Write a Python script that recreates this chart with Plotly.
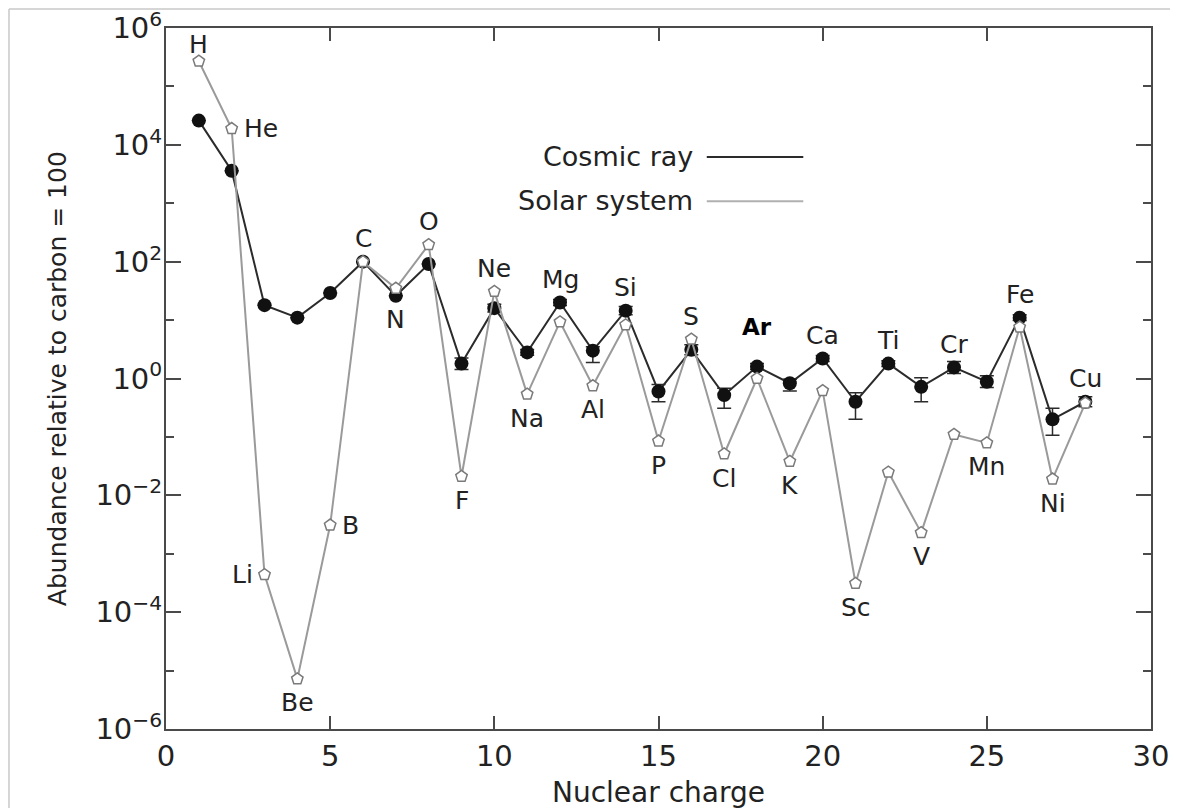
import math
import plotly.graph_objects as go

# ---------------- data ----------------
Z = list(range(1, 29))
symbols = ["H", "He", "Li", "Be", "B", "C", "N", "O", "F", "Ne", "Na", "Mg", "Al", "Si",
           "P", "S", "Cl", "Ar", "K", "Ca", "Sc", "Ti", "V", "Cr", "Mn", "Fe", "Ni", "Cu"]
cosmic_ray = [2.6e4, 3.6e3, 18, 11, 29, 100, 26, 91, 1.8, 16, 2.8, 20, 3.0, 14.5,
              0.6, 3.1, 0.52, 1.6, 0.83, 2.2, 0.40, 1.8, 0.72, 1.55, 0.88, 11, 0.20, 0.40]
cosmic_err_plus = [0, 0, 0, 0, 0, 0, 0, 0, 0.45, 2.7, 0.35, 2.5, 0.5, 2.5,
                   0.19, 0.68, 0.16, 0.2, 0.14, 0.27, 0.17, 0.22, 0.31, 0.41, 0.23, 1.4, 0.11, 0.087]
cosmic_err_minus = [0, 0, 0, 0, 0, 0, 0, 0, 0.38, 2.3, 0.31, 2.2, 1.13, 2.1,
                    0.20, 0.55, 0.21, 0.18, 0.22, 0.24, 0.20, 0.20, 0.32, 0.33, 0.18, 1.2, 0.093, 0.072]
solar_system = [2.7e5, 1.9e4, 4.4e-4, 7.2e-6, 3.1e-3, 100, 35, 195, 0.021, 31, 0.54, 9.3, 0.75, 8.3,
                0.085, 4.7, 0.051, 1.0, 0.038, 0.62, 3.1e-4, 0.025, 2.3e-3, 0.11, 0.079, 7.6, 0.019, 0.38]

y_tick_vals = [1e-6, 1e-4, 1e-2, 1e0, 1e2, 1e4, 1e6]
y_tick_text = ["10<sup>−6</sup>", "10<sup>−4</sup>", "10<sup>−2</sup>", "10<sup>0</sup>",
               "10<sup>2</sup>", "10<sup>4</sup>", "10<sup>6</sup>"]
y_minor_vals = [1e-5, 1e-3, 1e-1, 1e1, 1e3, 1e5]
x_tick_vals = [0, 5, 10, 15, 20, 25, 30]

# label styling: which series the label sits on and where (s = solar, c = cosmic)
label_series = ["s", "s", "s", "s", "s", "c", "c", "s", "s", "s", "s", "c", "s", "c",
                "s", "s", "s", "c", "s", "c", "s", "c", "s", "c", "s", "c", "s", "c"]
label_side = ["up", "right", "left", "down", "right", "up", "down", "up", "down", "up", "down", "up", "down", "up",
              "down", "up", "down", "up", "down", "up", "down", "up", "down", "up", "down", "up", "down", "up"]

FONT = "DejaVu Sans, Liberation Sans, Arial, sans-serif"
TXT = "#222222"
DARK = "#2b2b2b"
GRAY = "#9a9a9a"
AX = "#4a4a4a"

fig = go.Figure()

fig.add_trace(go.Scatter(
    x=Z, y=cosmic_ray, mode="lines+markers", name="Cosmic ray",
    line=dict(color=DARK, width=2),
    marker=dict(symbol="circle", size=14, color="#111111", line=dict(width=0)),
    error_y=dict(type="data", symmetric=False, array=cosmic_err_plus, arrayminus=cosmic_err_minus,
                 color=DARK, thickness=1.5, width=7),
    showlegend=False, cliponaxis=False,
))

fig.add_trace(go.Scatter(
    x=Z, y=solar_system, mode="lines+markers", name="Solar system",
    line=dict(color=GRAY, width=2),
    marker=dict(symbol="pentagon", size=12, color="white", line=dict(color="#7a7a7a", width=1.5)),
    showlegend=False, cliponaxis=False,
))

# element labels
annotations = []
for z, sym, ser, side, c, s in zip(Z, symbols, label_series, label_side, cosmic_ray, solar_system):
    yv = s if ser == "s" else c
    a = dict(x=z, y=math.log10(yv), xref="x", yref="y", text=sym, showarrow=False,
             font=dict(family=FONT, size=25, color=TXT), xanchor="center", yanchor="middle")
    if side == "up":
        a["yshift"] = 23
    elif side == "down":
        a["yshift"] = -24
    elif side == "left":
        a["xanchor"] = "right"
        a["xshift"] = -10
    elif side == "right":
        a["xanchor"] = "left"
        a["xshift"] = 10
    if sym == "H":
        a["yshift"] = 17
    if sym == "Ar":
        a["yshift"] = 40
        a["font"] = dict(family=FONT, size=23, color="#000000")
        a["text"] = "<b>Ar</b>"
    annotations.append(a)

# legend (text left of line)
annotations.append(dict(x=0.537, y=0.816, xref="paper", yref="paper", text="Cosmic ray", showarrow=False,
                        xanchor="right", yanchor="middle", font=dict(family=FONT, size=27, color=TXT)))
annotations.append(dict(x=0.537, y=0.754, xref="paper", yref="paper", text="Solar system", showarrow=False,
                        xanchor="right", yanchor="middle", font=dict(family=FONT, size=27, color=TXT)))

# axis titles
annotations.append(dict(x=-0.110, y=0.5, xref="paper", yref="paper", text="Abundance relative to carbon = 100",
                        showarrow=False, textangle=-90, xanchor="center", yanchor="middle",
                        font=dict(family=FONT, size=25, color=TXT)))
annotations.append(dict(x=0.5, y=-0.09, xref="paper", yref="paper", text="Nuclear charge",
                        showarrow=False, xanchor="center", yanchor="middle",
                        font=dict(family=FONT, size=28, color=TXT)))

shapes = [
    dict(type="line", xref="paper", yref="paper", x0=0.549, x1=0.647, y0=0.816, y1=0.816,
         line=dict(color=DARK, width=2)),
    dict(type="line", xref="paper", yref="paper", x0=0.549, x1=0.647, y0=0.753, y1=0.753,
         line=dict(color="#b0b0b0", width=2)),
    # outer crop border of the original figure
    dict(type="line", xref="paper", yref="paper", x0=-0.1594, x1=1.05, y0=1.0271, y1=1.0271,
         line=dict(color="#c8c8c8", width=1.5)),
    dict(type="line", xref="paper", yref="paper", x0=-0.1594, x1=-0.1594, y0=-0.2, y1=1.0271,
         line=dict(color="#c8c8c8", width=1.5)),
]

fig.update_layout(
    width=1170, height=800,
    margin=dict(l=158, r=27, t=20, b=79, autoexpand=False),
    paper_bgcolor="white", plot_bgcolor="white",
    font=dict(family=FONT, color=TXT),
    annotations=annotations, shapes=shapes,
    showlegend=False,
)

fig.update_xaxes(
    range=[0, 30], tickmode="array", tickvals=x_tick_vals,
    ticks="inside", ticklen=13, tickwidth=1.5, tickcolor=AX,
    showline=True, linecolor=AX, linewidth=2, mirror="ticks",
    showgrid=False, zeroline=False, automargin=False, ticklabeloverflow="allow",
    tickfont=dict(family=FONT, size=29, color=TXT),
)
fig.update_yaxes(
    type="log", range=[-6, 6], tickmode="array", tickvals=y_tick_vals, ticktext=y_tick_text,
    ticks="inside", ticklen=15, tickwidth=1.5, tickcolor=AX,
    minor=dict(tickmode="array", tickvals=y_minor_vals, ticks="inside", ticklen=8, tickwidth=1.5, tickcolor=AX),
    showline=True, linecolor=AX, linewidth=2, mirror="ticks",
    showgrid=False, zeroline=False, automargin=False, ticklabelstandoff=-4, ticklabeloverflow="allow",
    tickfont=dict(family=FONT, size=29, color=TXT),
)

fig.write_html("out.html")
